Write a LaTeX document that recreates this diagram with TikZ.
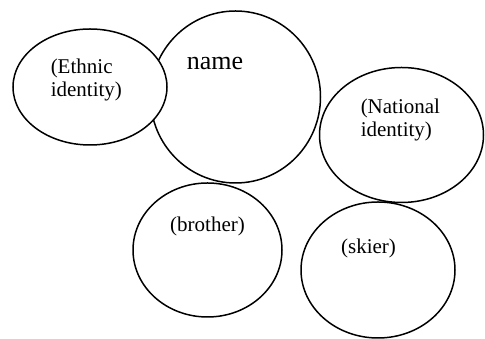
\documentclass[tikz,border=0pt]{standalone}
\usepackage{fontspec}
\setmainfont{Liberation Serif}
\usetikzlibrary{shapes.geometric}

\begin{document}
\begin{tikzpicture}[x=1pt, y=1pt, line width=1.5pt,
		bubble/.style={ellipse, draw, fill=white, inner sep=0pt},
		words/.style={align=left, inner sep=0pt, font=\fontsize{21}{23}\selectfont}]
    		\useasboundingbox (0,0) rectangle (485,339);
    		\node[bubble, minimum width=170, minimum height=172] (name) at (235.5,242) {};
    		\node[bubble, minimum width=154, minimum height=116] (ethnic) at (90,252) {};
    		\node[bubble, minimum width=149, minimum height=134] (brother) at (207.5,89) {};
    		\node[bubble, minimum width=164, minimum height=135] (national) at (401.5,204) {};
    		\node[bubble, minimum width=154, minimum height=136] (skier) at (378,69) {};
    		\node[words, anchor=west] (ethnictext) at (50,259) {(Ethnic\\identity)};
    		\node[inner sep=0pt, anchor=base, font=\fontsize{26}{28}\selectfont] (nametext) at (215,269) {name};
    		\node[words, anchor=west] (nationaltext) at (360,219) {(National\\identity)};
    		\node[words] (brothertext) at (207.5,113) {(brother)};
    		\node[words] (skiertext) at (368.5,91) {(skier)};
    	\end{tikzpicture}
\end{document}
